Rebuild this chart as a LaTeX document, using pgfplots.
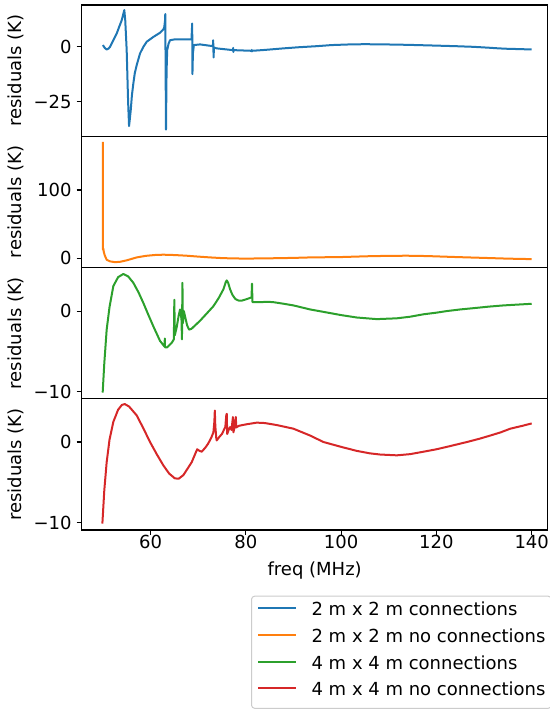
\documentclass[border=0pt]{standalone}
\usepackage{pgfplots}
\pgfplotsset{compat=1.18}
\usepackage{fontspec}
\setmainfont{DejaVu Sans}

\definecolor{c0}{HTML}{1F77B4}
\definecolor{c1}{HTML}{FF7F0E}
\definecolor{c2}{HTML}{2CA02C}
\definecolor{c3}{HTML}{D62728}

\pgfplotsset{
  panel/.style={
    scale only axis, width=466pt, height=131.25pt,
    xmin=45.56, xmax=143.36,
    anchor=south west,
    font=\fontsize{18}{21}\selectfont,
    axis line style={line width=1.1pt},
    tick align=outside, major tick length=5pt,
    every tick/.style={black, line width=1.1pt},
    ytick pos=left, xtick pos=bottom,
    xtick=\empty,
    yticklabel style={anchor=east, inner sep=0pt, xshift=-5pt},
    xticklabel style={anchor=north, inner sep=0pt},
    ylabel={residuals (K)},
    every axis y label/.style={at={(axis description cs:-0.141,0.5)}, rotate=90, anchor=center},
    /pgf/number format/assume math mode=true,
    every axis plot/.append style={line width=2pt, line join=round, mark=none},
  },
}

\begin{document}
\begin{tikzpicture}
\useasboundingbox (0,0) rectangle (549pt,709pt);

% 2 m x 2 m connections
\begin{axis}[panel, at={(81.7pt,572.75pt)},
  ymin=-40.6, ymax=19.0, ytick={-25,0}, yticklabels={−25,0}]
\addplot[c0] coordinates {
(50,0.8)(50.4,-0.5)(50.8,-1.2)(51.2,-0.8)(51.5,0)(52.2,3)(52.9,6)(53.5,9.5)
(53.95,12)(54.3,15)(54.5,16.7)(54.7,12)(55.0,-1.5)(55.3,-25)(55.5,-36)
(55.65,-33)(55.85,-28.8)(56.1,-22)(56.4,-16.6)(56.7,-12)(57.1,-8.3)(57.8,-3)
(58.5,0)(59.2,2.3)(60.6,4.5)(62,6.4)(62.7,7.9)(62.9,9.1)(63.05,12)(63.1,14.9)
(63.2,-20)(63.25,-37.6)(63.35,-15)(63.4,-9.1)(63.5,-1.5)(63.8,1.5)(64.1,3)
(65.1,3.4)(68.6,3.4)(68.75,10.6)(68.8,-12.4)(68.9,-3)(69.1,0.8)(70.4,1.1)
(73.1,0.3)(73.15,3.0)(73.25,-4.8)(73.3,-0.3)(73.9,-0.7)(77.3,-1.5)(77.35,-0.5)
(77.4,-2.3)(77.45,-1.5)(81.2,-1.8)(81.25,-1.4)(81.3,-2.1)(81.35,-1.8)(84,-1.4)
(87.9,-0.7)(91,-0.2)(94.9,0.3)(98,0.8)(101.9,1.1)(105,1.2)(108.9,1.1)(112,1.0)
(115.9,0.8)(120.8,0.5)(124,0.3)(127.8,0)(131,-0.4)(133.1,-0.7)(135,-0.9)
(136.9,-1)(140,-1.2)
};
\end{axis}

% 2 m x 2 m no connections
\begin{axis}[panel, at={(81.7pt,441.5pt)},
  ymin=-13.8, ymax=179, ytick={0,100}, yticklabels={0,100}]
\addplot[c1] coordinates {
(50,170.6)(50.02,12.4)(50.1,14)(50.2,9)(50.4,4)(50.8,-2.4)(51.5,-4.8)(52.5,-5.9)
(53.5,-5.6)(55,-3.3)(57.1,1)(59,3.3)(61,4.6)(62.7,5)(65,4.5)(67.6,3.5)(70,2.2)
(72.5,1)(75,0)(77.4,-0.5)(80,-0.7)(83,-0.5)(86,-0.2)(90,0.3)(93.5,1)(99.8,1.5)
(106,2.8)(110,3.3)(113.8,3.5)(118,3)(124.3,1.5)(130,0.3)(135,-0.8)(140,-1.5)
};
\end{axis}

% 4 m x 4 m connections
\begin{axis}[panel, at={(81.7pt,310.25pt)},
  ymin=-10.87, ymax=5.4, ytick={-10,0}, yticklabels={−10,0}]
\addplot[c2] coordinates {
(49.96,-10.1)(50.3,-6.5)(50.8,-2.3)(51.4,0.5)(52.2,3.1)(53.2,4.2)(54.3,4.6)
(55.3,4.3)(56.4,3.5)(57.5,2.3)(58.5,1.0)(59.5,-0.4)(60.6,-1.9)(62,-3.7)
(62.8,-4.3)(62.95,-4.4)(63.0,-3.4)(63.05,-4.5)(63.5,-4.5)(64.5,-3.9)(64.9,-3.5)
(65.0,1.4)(65.1,-3.0)(65.5,-2.0)(65.9,-0.6)(66.2,0.2)(66.5,-1.0)(66.6,-3.5)
(66.7,3.5)(66.8,-1.5)(67.0,0.0)(67.3,-0.8)(67.7,-1.8)(68.1,-2.3)(68.6,-2.2)
(69.5,-1.7)(70.4,-1.2)(71.8,-0.3)(73.2,0.6)(74.3,1.6)(75.3,2.7)(75.8,3.6)
(76,3.8)(76.3,3.5)(76.7,2.7)(77.2,2.0)(77.8,1.5)(78.5,1.3)(79.2,1.3)(80.3,1.5)
(81.2,1.7)(81.3,3.4)(81.4,1.1)(82,1.1)(83,1.1)(84.5,1.15)(85.8,1.1)(88,0.9)
(90,0.7)(93.5,0.2)(96.3,-0.1)(100,-0.5)(103.3,-0.8)(107.5,-1.0)(111.7,-0.9)
(114.5,-0.7)(117.3,-0.4)(120,-0.2)(122.2,0)(125,0.2)(128.5,0.4)(131,0.55)
(134.1,0.7)(137,0.8)(140,0.9)
};
\end{axis}

% 4 m x 4 m no connections, with the legend
\begin{axis}[panel, at={(81.7pt,179pt)},
  ymin=-10.9, ymax=5.36, ytick={-10,0}, yticklabels={−10,0},
  xtick={60,80,100,120,140},
  xlabel={freq (MHz)},
  every axis x label/.style={at={(axis description cs:0.5,-0.347)}, anchor=base},
  legend image code/.code={\draw[#1] (0pt,7.4pt) -- (37.3pt,7.4pt);},
  legend style={at={(0.3635,-0.5006)}, anchor=north west,
    draw={rgb,255:red,204;green,204;blue,204}, line width=1pt,
    rounded corners=3pt, fill=white,
    inner xsep=5.7pt, inner ysep=6pt,
    column sep=15pt, row sep=6.7pt,
    nodes={inner sep=0pt, text height=13.5pt, text depth=6.5pt},
    cells={anchor=base west},
    font=\fontsize{18}{21}\selectfont},
]
\addlegendimage{c0, line width=2pt}
\addlegendentry{2 m x 2 m connections}
\addlegendimage{c1, line width=2pt}
\addlegendentry{2 m x 2 m no connections}
\addlegendimage{c2, line width=2pt}
\addlegendentry{4 m x 4 m connections}
\addplot[c3] coordinates {
(49.9,-10.1)(50.3,-6.0)(50.8,-2.5)(51.4,0.3)(52.2,2.5)(53.2,4.0)(54.0,4.6)
(54.6,4.7)(55.5,4.4)(57.1,3.3)(58.5,1.7)(59.9,0)(61.3,-1.5)(62.7,-2.9)
(63.9,-3.9)(65.1,-4.5)(65.9,-4.55)(66.9,-4.1)(68.65,-2.5)(69.5,-1.3)(69.8,-0.9)
(70.3,-1.1)(70.75,-1.2)(71.5,-0.7)(72.1,-0.2)(72.8,0.6)(73.2,1.2)(73.4,2.5)
(73.5,3.9)(73.6,2.0)(73.8,0.5)(73.9,0.2)(74.4,0.6)(75.0,1.0)(75.4,1.5)(75.7,1.85)
(75.9,3.3)(76.0,3.5)(76.1,1.0)(76.4,1.5)(76.7,1.85)(77.0,1.5)(77.3,3.1)(77.4,1.2)
(77.7,2.0)(77.9,3.1)(78.0,1.8)(78.5,2.0)(79.3,2.1)(80.2,2.2)(82.3,2.4)(84,2.35)
(86.5,2.1)(90,1.65)(93.5,0.8)(96.3,0)(100,-0.6)(103.3,-1.1)(106,-1.4)(108.2,-1.55)
(111.7,-1.65)(114.5,-1.5)(117.3,-1.2)(120,-0.9)(122.2,-0.6)(124.3,-0.3)(126.4,0)
(129,0.4)(131.3,0.8)(133.5,1.2)(135.5,1.65)(138,2.0)(140,2.3)
};
\addlegendentry{4 m x 4 m no connections}
\end{axis}
\end{tikzpicture}
\end{document}
